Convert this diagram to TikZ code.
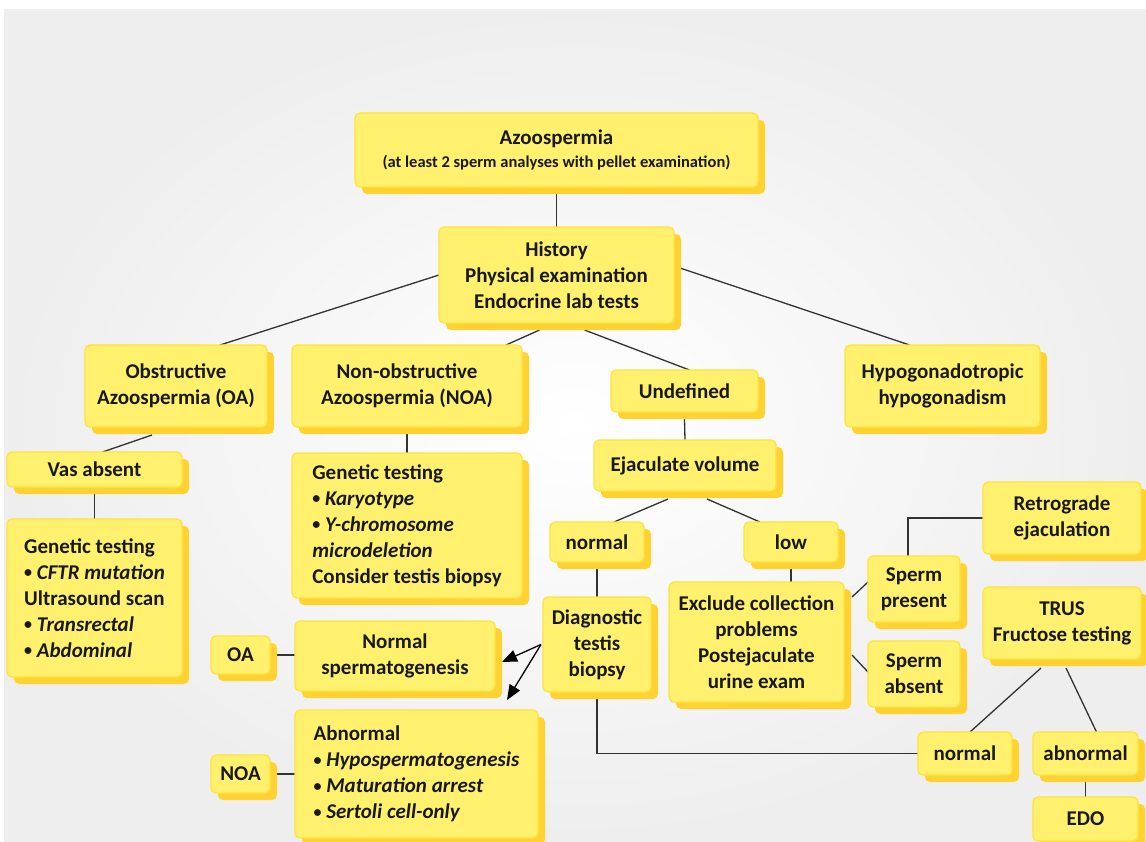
\documentclass[tikz,border=0pt]{standalone}
\usepackage{fontspec}
\setmainfont{Carlito}
\usetikzlibrary{shadows,calc,arrows.meta}
\definecolor{boxfill}{RGB}{255,241,110}
\definecolor{boxborder}{RGB}{255,226,60}
\definecolor{boxshadow}{RGB}{255,210,50}
\definecolor{txt}{RGB}{25,25,25}
\definecolor{bgc}{RGB}{238,238,238}
\definecolor{linec}{RGB}{50,50,50}
\pgfdeclarelayer{paper}
\pgfdeclarelayer{wires}
\pgfsetlayers{paper,wires,main}
\tikzset{
  box/.style={draw=boxborder, line width=1.3pt, fill=boxfill, rounded corners=5pt,
    inner sep=0pt, outer sep=0pt, align=center, text=txt,
    font=\bfseries\fontsize{21}{26}\selectfont,
    general shadow={fill=boxshadow, shadow xshift=7pt, shadow yshift=-7pt}},
  conn/.style={draw=linec, line width=1.3pt},
  arr/.style={draw=black, line width=1.3pt, -{Triangle[length=15pt,width=12pt]}},
}
\newcommand{\bul}{\raisebox{1.5pt}{\fontsize{16}{16}\selectfont\textbullet}\ }
\newcommand{\bx}[7][]{\node[box,#1, minimum width={(#5-#3)*1pt}, minimum height={(#6-#4)*1pt}] (#2) at ({(#3+#5)/2},{(#4+#6)/2}) {#7};}
\begin{document}
\begin{tikzpicture}[x=1pt,y=-1pt]
\useasboundingbox (0,0) rectangle (1146,841);
\clip (0,0) rectangle (1146,841);
\begin{pgfonlayer}{paper}
\fill[white] (0,0) rectangle (1146,841);
\shade[inner color=white, outer color=bgc] (4,9) rectangle (1146,841);
\end{pgfonlayer}

% nodes
\bx{azo}{355}{113}{758}{187}{Azoospermia\\[-3pt]{\fontsize{16.5}{18}\selectfont (at least 2 sperm analyses with pellet examination)}}
\bx{hist}{439}{227}{674}{323}{History\\Physical examination\\Endocrine lab tests}
\bx{oa}{85}{345}{267}{427}{Obstructive\\Azoospermia (OA)}
\bx{noa}{292}{345}{522}{427}{Non-obstructive\\Azoospermia (NOA)}
\bx{undef}{611}{370}{758}{412}{Undefined}
\bx{hypo}{845}{345}{1040}{427}{Hypogonadotropic\\hypogonadism}
\bx{vas}{7}{452}{182}{487}{Vas absent}
\bx[align=left]{gtl}{7}{519}{182}{677}{Genetic testing\\\bul\textit{CFTR mutation}\\Ultrasound scan\\\bul\textit{Transrectal}\\\bul\textit{Abdominal}}
\bx[align=left]{gtn}{292}{453}{522}{598}{Genetic testing\\\bul\textit{Karyotype}\\\bul\textit{Y-chromosome}\\\textit{microdeletion}\\Consider testis biopsy}
\bx{ejac}{594}{440}{776}{491}{Ejaculate volume}
\bx{norm1}{550}{522}{644}{562}{normal}
\bx{low}{744}{522}{838}{562}{low}
\bx{diag}{543}{597}{651}{692}{Diagnostic\\testis\\biopsy}
\bx{excl}{669}{582}{844}{702}{Exclude collection\\problems\\Postejaculate\\urine exam}
\bx{spres}{868}{556}{960}{622}{Sperm\\present}
\bx{sabs}{868}{641}{960}{707}{Sperm\\absent}
\bx{retro}{983}{482}{1141}{554}{Retrograde\\ejaculation}
\bx{trus}{983}{587}{1141}{659}{TRUS\\Fructose testing}
\bx{norm2}{918}{732}{1012}{775}{normal}
\bx{abn2}{1033}{732}{1138}{775}{abnormal}
\bx{edo}{1033}{797}{1138}{841}{EDO}
\bx{oasm}{211}{636}{270}{674}{OA}
\bx{normsp}{295}{621}{495}{691}{Normal\\spermatogenesis}
\bx{noasm}{211}{755}{270}{793}{NOA}
\bx[align=left]{abnorm}{295}{710}{538}{838}{Abnormal\\\bul\textit{Hypospermatogenesis}\\\bul\textit{Maturation arrest}\\\bul\textit{Sertoli cell-only}}

% connectors
\begin{pgfonlayer}{wires}
\draw[conn] (azo.south) -- (hist.north);
\draw[conn] (hist.west) -- ([xshift=-47pt]oa.north east);
\draw[conn] ([xshift=-17pt,yshift=-7pt]hist.south) -- ([xshift=-16pt]noa.north east);
\draw[conn] ([xshift=28pt,yshift=-7pt]hist.south) -- ([xshift=5pt]undef.north);
\draw[conn] ([yshift=9pt]hist.east) -- ([xshift=-33pt]hypo.north);
\draw[conn] ([xshift=-24pt,yshift=-8pt]oa.south) -- ([xshift=8pt]vas.north);
\draw[conn] ([yshift=-7pt]vas.south) -- (gtl.north);
\draw[conn] ([yshift=-7pt]noa.south) -- (gtn.north);
\draw[conn] ([yshift=-7pt]undef.south) -- (ejac.north);
\draw[conn] ([xshift=-17pt,yshift=-8pt]ejac.south) -- ([xshift=17pt]norm1.north);
\draw[conn] ([xshift=22pt,yshift=-8pt]ejac.south) -- ([xshift=-31pt]low.north);
\draw[conn] ([yshift=-7pt]norm1.south) -- (diag.north);
\draw[conn] ([yshift=-7pt]low.south) -- (low.south |- excl.north);
\draw[conn] ([xshift=8pt,yshift=-15pt]excl.north east) -- ([yshift=7pt]spres.west);
\draw[conn] ([xshift=8pt,yshift=-13pt]excl.east) -- ([yshift=2pt]sabs.west);
\draw[conn] ([xshift=-6pt]spres.north) |- (retro.west);
\draw[conn] ([xshift=-21pt,yshift=-9pt]trus.south) -- ([xshift=5pt]norm2.north);
\draw[conn] ([xshift=4pt,yshift=-9pt]trus.south) -- ([xshift=11pt]abn2.north);
\draw[conn] ([yshift=-7pt]abn2.south) -- (edo.north);
\draw[conn] ([yshift=-7pt]diag.south) |- (norm2.west);
\draw[conn] ([xshift=7pt]oasm.east) -- (oasm.east -| normsp.west);
\draw[conn] ([xshift=7pt]noasm.east) -- (noasm.east -| abnorm.west);
\draw[arr] ([xshift=-2pt]diag.west) -- ([xshift=7pt,yshift=-6pt]normsp.east);
\draw[arr] ([xshift=-2pt]diag.west) -- ([xshift=-31pt,yshift=10pt]abnorm.north east);
\end{pgfonlayer}
\end{tikzpicture}
\end{document}
